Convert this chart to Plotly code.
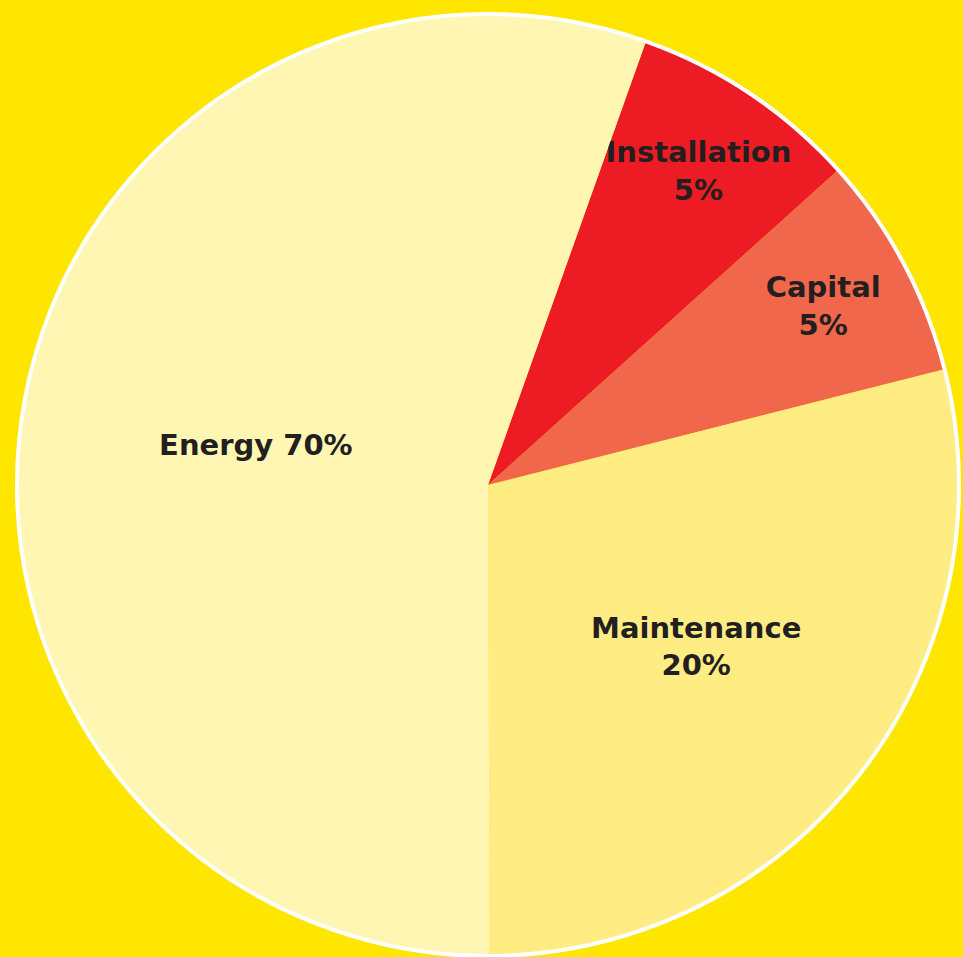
import plotly.graph_objects as go

categories = ["Installation", "Capital", "Maintenance", "Energy"]
values = [7.9, 7.7, 28.9, 55.5]
label_texts = ["Installation<br>5%", "Capital<br>5%", "Maintenance<br>20%", "Energy 70%"]
colors = ["#ED1C24", "#F0674B", "#FFED84", "#FFF6B3"]

W, H = 963, 957
cx, cy, r = 488, 485, 471
dom_x = [(cx - r) / W, (cx + r) / W]
dom_y = [1 - (cy + r) / H, 1 - (cy - r) / H]

fig = go.Figure(go.Pie(
    labels=categories,
    values=values,
    text=label_texts,
    textinfo="text",
    textposition="inside",
    insidetextorientation="horizontal",
    textfont=dict(family="DejaVu Sans", size=29, color="#231F20", weight="bold"),
    marker=dict(colors=colors, line=dict(width=0)),
    sort=False,
    direction="clockwise",
    rotation=19.6,
    domain=dict(x=dom_x, y=dom_y),
    showlegend=False,
    hoverinfo="label+value",
))

fig.add_shape(type="circle", xref="paper", yref="paper",
              x0=dom_x[0], x1=dom_x[1], y0=dom_y[0], y1=dom_y[1],
              line=dict(color="white", width=4), layer="above")

fig.update_layout(
    width=W, height=H, autosize=False,
    margin=dict(l=0, r=0, t=0, b=0),
    paper_bgcolor="#FFE600",
    plot_bgcolor="#FFE600",
    uniformtext=dict(minsize=29, mode="show"),
)

fig.write_html(
    "out.html",
    config={"displayModeBar": False},
    post_script="document.body.style.margin='0';document.body.style.background='#FFE600';document.body.style.overflow='hidden';",
)
